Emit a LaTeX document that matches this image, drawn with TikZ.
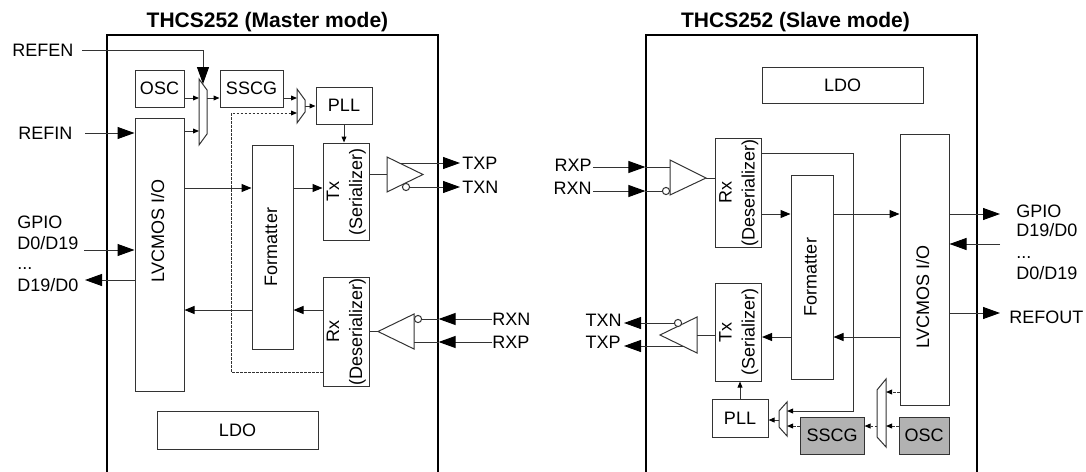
\documentclass[tikz,border=0pt]{standalone}
\usepackage{graphicx}
\usepackage{fontspec}
\setmainfont{Liberation Sans}
\usetikzlibrary{arrows.meta}
\definecolor{linegray}{HTML}{333333}
\definecolor{chipgray}{HTML}{B2B2B2}
\newcommand{\blkfont}{\fontsize{9}{11.5}\selectfont}
\newcommand{\ttlfont}{\fontsize{10.5}{12.5}\selectfont\bfseries}
\newcommand{\vtext}[1]{\rotatebox{90}{\begin{tabular}{@{}c@{}}#1\end{tabular}}}

\begin{document}
\begin{tikzpicture}[x=0.5pt, y=-0.5pt,
    blk/.style={draw=linegray, line width=0.5pt, inner sep=0pt, font=\blkfont},
    gblk/.style={blk, fill=chipgray},
    chip/.style={draw=black, line width=0.6pt, inner sep=0pt, minimum width=165.5pt, minimum height=230pt},
    sig/.style={font=\blkfont, inner sep=0pt, text height=6.4pt, text depth=0pt},
    ttl/.style={font=\ttlfont, inner sep=0pt},
    wire/.style={draw=linegray, line width=0.5pt},
    pinarr/.style={wire, -{Triangle[length=8.5pt, width=6pt, color=black]}},
    darr/.style={wire, -{Triangle[length=5pt, width=4pt, color=black]}},
    tarr/.style={wire, -{Triangle[length=3pt, width=2.4pt, color=black]}},
    clk/.style={dash pattern=on 1.2pt off 0.8pt}]

    \useasboundingbox (0,0) rectangle (1086,471);
    \clip (0,0) rectangle (1086,471);

    % Titles and chip outlines
    \node[ttl] (ttlM) at (267.5,22) {THCS252 (Master mode)};
    \node[ttl] (ttlS) at (795.5,22) {THCS252 (Slave mode)};
    \node[chip] (chipM) at (272.5,265) {};
    \node[chip] (chipS) at (811.5,265) {};

    % ---------------- Master mode ----------------
    % Blocks
    \node[blk, minimum width=24.5pt, minimum height=18.5pt] (osc) at (159.5,88.5) {OSC};
    \node[blk, minimum width=31.5pt, minimum height=18.5pt] (sscg) at (251.5,88.5) {SSCG};
    \node[blk, minimum width=28pt, minimum height=18.5pt] (pll) at (344,105.5) {PLL};
    \node[blk, minimum width=24.5pt, minimum height=136.5pt] (lvc) at (159.5,254.5) {};
    \node[font=\blkfont, inner sep=0pt] (lvctxt) at (159.5,231) {\vtext{LVCMOS I/O}};
    \node[blk, minimum width=20.5pt, minimum height=102pt] (fmt) at (272.5,247) {\vtext{Formatter}};
    \node[blk, minimum width=21pt, minimum height=48.5pt] (tx) at (346,191.5) {\vtext{Tx\\(Serializer)}};
    \node[blk, minimum width=21pt, minimum height=54.5pt] (rx) at (346,331.5) {\vtext{Rx\\(Deserializer)}};
    \node[blk, minimum width=80.5pt, minimum height=19pt] (ldo) at (237.5,430) {LDO};

    % Clock muxes
    \draw[wire] (199,79) -- (207,90) -- (207,134) -- (199,145) -- cycle;
    \draw[wire] (297,89) -- (305,100) -- (305,112) -- (297,123) -- cycle;
    \coordinate (m1top) at (203,84);
    \coordinate (m1inA) at (199,98);
    \coordinate (m1inB) at (199,131);
    \coordinate (m1out) at (207,98);
    \coordinate (m2inA) at (297,98);
    \coordinate (m2inB) at (297,113);
    \coordinate (m2out) at (305,106);

    % Tx driver and Rx receiver
    \draw[wire] (387,157) -- (423,174.5) -- (387,192) -- cycle;
    \draw[wire, fill=white] (406,187) circle (1.8pt);
    \coordinate (tbin) at (387,174.5);
    \coordinate (tbp) at (401,163);
    \coordinate (tbn) at (409.6,187);
    \draw[wire] (414,314) -- (378,331.5) -- (414,349) -- cycle;
    \draw[wire, fill=white] (418,319) circle (1.8pt);
    \coordinate (rbout) at (378,331.5);
    \coordinate (rbn) at (421.6,319);
    \coordinate (rbp) at (414,342);

    % Pins and rows
    \coordinate (pRefen) at (82,50);
    \coordinate (pRefin) at (85,133);
    \coordinate (pDin) at (84,250);
    \coordinate (pDout) at (85,280);
    \coordinate (pTxp) at (460,163);
    \coordinate (pTxn) at (460,187);
    \coordinate (pRxn) at (492,319);
    \coordinate (pRxp) at (492,342);
    \coordinate (rowA) at (0,188);
    \coordinate (rowB) at (0,310);
    \coordinate (rxclk) at (231,372);

    % Connections
    \draw[pinarr] (pRefen) -| (m1top);
    \draw[pinarr] (pRefin) -- (lvc.west |- pRefin);
    \draw[pinarr] (pDin) -- (lvc.west |- pDin);
    \draw[pinarr] (lvc.west |- pDout) -- (pDout);
    \draw[tarr] (osc.east |- m1inA) -- (m1inA);
    \draw[tarr] (lvc.east |- m1inB) -- (m1inB);
    \draw[tarr] (m1out) -- (sscg.west |- m1out);
    \draw[tarr] (sscg.east |- m2inA) -- (m2inA);
    \draw[tarr, clk] (rx.west |- rxclk) -- (rxclk) |- (m2inB);
    \draw[tarr] (m2out) -- (pll.west |- m2out);
    \draw[tarr] (pll.south) -- (pll.south |- tx.north);
    \draw[darr] (lvc.east |- rowA) -- (fmt.west |- rowA);
    \draw[darr] (fmt.east |- rowA) -- (tx.west |- rowA);
    \draw[darr] (rx.west |- rowB) -- (fmt.east |- rowB);
    \draw[darr] (fmt.west |- rowB) -- (lvc.east |- rowB);
    \draw[wire] (tx.east |- tbin) -- (tbin);
    \draw[pinarr] (tbp) -- (pTxp);
    \draw[pinarr] (tbn) -- (pTxn);
    \draw[wire] (rbout) -- (rx.east |- rbout);
    \draw[pinarr] (pRxn) -- (chipM.east |- pRxn);
    \draw[wire] (chipM.east |- pRxn) -- (rbn);
    \draw[pinarr] (pRxp) -- (chipM.east |- pRxp);
    \draw[wire] (chipM.east |- pRxp) -- (rbp);

    % Labels
    \node[sig, anchor=west] (refen) at (12,50) {REFEN};
    \node[sig, anchor=west] (refin) at (18,133) {REFIN};
    \node[sig, anchor=west] (gpioM) at (17,222) {GPIO};
    \node[sig, anchor=west] (dinM) at (17,243) {D0/D19};
    \node[sig, anchor=base west] (dotsM) at (17,269) {...};
    \node[sig, anchor=west] (doutM) at (17,285) {D19/D0};
    \node[sig, anchor=west] (txp) at (462,163) {TXP};
    \node[sig, anchor=west] (txn) at (462,187) {TXN};
    \node[sig, anchor=west] (rxn) at (492,319) {RXN};
    \node[sig, anchor=west] (rxp) at (492,342) {RXP};

    % ---------------- Slave mode ----------------
    % Blocks
    \node[blk, minimum width=80.5pt, minimum height=18pt] (ldoS) at (842.5,85) {LDO};
    \node[blk, minimum width=20.5pt, minimum height=54.5pt] (rxS) at (738.5,192.5) {\vtext{Rx\\(Deserializer)}};
    \node[blk, minimum width=21pt, minimum height=102pt] (fmtS) at (812,277) {\vtext{Formatter}};
    \node[blk, minimum width=24.5pt, minimum height=135.5pt] (lvcS) at (924.5,269.5) {};
    \node[font=\blkfont, inner sep=0pt] (lvcStxt) at (924.5,297) {\vtext{LVCMOS I/O}};
    \node[blk, minimum width=20.5pt, minimum height=49pt] (txS) at (738.5,332) {\vtext{Tx\\(Serializer)}};
    \node[blk, minimum width=28pt, minimum height=19pt] (pllS) at (740,418) {PLL};
    \node[gblk, minimum width=32pt, minimum height=18.5pt] (sscgS) at (832,435.5) {SSCG};
    \node[gblk, minimum width=25pt, minimum height=18.5pt] (oscS) at (924,435.5) {OSC};

    % Clock muxes
    \draw[wire] (787,402) -- (787,436) -- (779,427) -- (779,411) -- cycle;
    \draw[wire] (886,379) -- (886,447) -- (877,437) -- (877,390) -- cycle;
    \coordinate (m3inA) at (787,411);
    \coordinate (m3inB) at (787,426);
    \coordinate (m3out) at (779,420);
    \coordinate (m4inA) at (886,392);
    \coordinate (m4inB) at (886,426);
    \coordinate (m4out) at (877,426);

    % Rx receiver and Tx driver
    \draw[wire] (670,160) -- (706,178) -- (670,195) -- cycle;
    \draw[wire, fill=white] (666,191) circle (1.8pt);
    \coordinate (rbSp) at (670,167);
    \coordinate (rbSn) at (662.4,191);
    \coordinate (rbSout) at (706,178);
    \draw[wire] (697,317) -- (660,335) -- (697,353) -- cycle;
    \draw[wire, fill=white] (678,323) circle (1.8pt);
    \coordinate (tbSin) at (697,335);
    \coordinate (tbSn) at (674.4,323);
    \coordinate (tbSp) at (683,346);

    % Pins and rows
    \coordinate (pRxpS) at (593,167);
    \coordinate (pRxnS) at (593,191);
    \coordinate (pTxnS) at (624,323);
    \coordinate (pTxpS) at (624,346);
    \coordinate (pGpioS) at (1000,214);
    \coordinate (pDinS) at (1000,244);
    \coordinate (pRefout) at (1000,313);
    \coordinate (rowC) at (0,214);
    \coordinate (rowD) at (0,337);
    \coordinate (rxclkS) at (853,153);

    % Connections
    \draw[pinarr] (pRxpS) -- (chipS.west |- pRxpS);
    \draw[wire] (chipS.west |- pRxpS) -- (rbSp);
    \draw[pinarr] (pRxnS) -- (chipS.west |- pRxnS);
    \draw[wire] (chipS.west |- pRxnS) -- (rbSn);
    \draw[wire] (rbSout) -- (rxS.west |- rbSout);
    \draw[tarr] (rxS.east |- rxclkS) -- (rxclkS) |- (m3inA);
    \draw[darr] (rxS.east |- rowC) -- (fmtS.west |- rowC);
    \draw[darr] (fmtS.east |- rowC) -- (lvcS.west |- rowC);
    \draw[pinarr] (lvcS.east |- pGpioS) -- (pGpioS);
    \draw[pinarr] (pDinS) -- (lvcS.east |- pDinS);
    \draw[pinarr] (lvcS.east |- pRefout) -- (pRefout);
    \draw[darr] (lvcS.west |- rowD) -- (fmtS.east |- rowD);
    \draw[darr] (fmtS.west |- rowD) -- (txS.east |- rowD);
    \draw[wire] (txS.west |- tbSin) -- (tbSin);
    \draw[pinarr] (tbSn) -- (pTxnS);
    \draw[pinarr] (tbSp) -- (pTxpS);
    \draw[tarr] (pllS.north) -- (pllS.north |- txS.south);
    \draw[tarr] (m3out) -- (pllS.east |- m3out);
    \draw[tarr, clk] (sscgS.west |- m3inB) -- (m3inB);
    \draw[tarr, clk] (m4out) -- (sscgS.east |- m4out);
    \draw[tarr, clk] (oscS.west |- m4inB) -- (m4inB);
    \draw[tarr, clk] (lvcS.west |- m4inA) -- (m4inA);

    % Labels
    \node[sig, anchor=east] (rxpS) at (592,165) {RXP};
    \node[sig, anchor=east] (rxnS) at (592,188) {RXN};
    \node[sig, anchor=east] (txnS) at (622,320) {TXN};
    \node[sig, anchor=east] (txpS) at (621,342) {TXP};
    \node[sig, anchor=west] (gpioS) at (1016,211) {GPIO};
    \node[sig, anchor=west] (doutS) at (1016,230) {D19/D0};
    \node[sig, anchor=base west] (dotsS) at (1016,258) {...};
    \node[sig, anchor=west] (dinS) at (1016,273) {D0/D19};
    \node[sig, anchor=west] (refout) at (1009,317) {REFOUT};
\end{tikzpicture}
\end{document}
